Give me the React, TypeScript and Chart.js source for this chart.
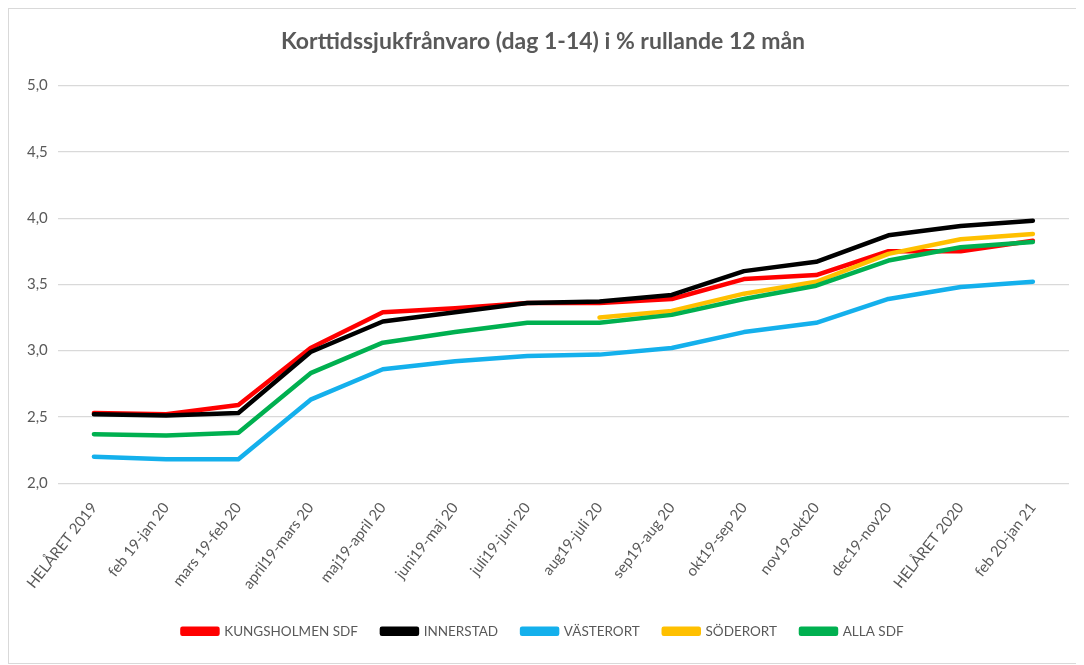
import { useEffect, useRef } from "react";
import { Chart, registerables } from "chart.js";

Chart.register(...registerables);

const categories = [
  "HELÅRET 2019",
  "feb 19-jan 20",
  "mars 19-feb 20",
  "april19-mars 20",
  "maj19-april 20",
  "juni19-maj 20",
  "juli19-juni 20",
  "aug19-juli 20",
  "sep19-aug 20",
  "okt19-sep 20",
  "nov19-okt20",
  "dec19-nov20",
  "HELÅRET 2020",
  "feb 20-jan 21",
];

const kungsholmen = [2.53, 2.52, 2.59, 3.02, 3.29, 3.32, 3.36, 3.36, 3.39, 3.54, 3.57, 3.75, 3.75, 3.83];
const innerstad = [2.52, 2.51, 2.53, 2.99, 3.22, 3.29, 3.36, 3.37, 3.42, 3.6, 3.67, 3.87, 3.94, 3.98];
const vasterort = [2.2, 2.18, 2.18, 2.63, 2.86, 2.92, 2.96, 2.97, 3.02, 3.14, 3.21, 3.39, 3.48, 3.52];
const soderort = [null, null, null, null, null, null, null, 3.25, 3.3, 3.43, 3.52, 3.73, 3.84, 3.88];
const allaSdf = [2.37, 2.36, 2.38, 2.83, 3.06, 3.14, 3.21, 3.21, 3.27, 3.39, 3.49, 3.68, 3.78, 3.82];

const seriesNames = ["KUNGSHOLMEN SDF", "INNERSTAD", "VÄSTERORT", "SÖDERORT", "ALLA SDF"];
const seriesColors = ["#ff0000", "#000000", "#14b0ec", "#ffc000", "#00b050"];
const seriesData = [kungsholmen, innerstad, vasterort, soderort, allaSdf];

const yTicks = [2.0, 2.5, 3.0, 3.5, 4.0, 4.5, 5.0];

const FONT = "Lato, 'Open Sans', sans-serif";
const TEXT = "#595959";

export default function App() {
  const ref = useRef<HTMLCanvasElement>(null);

  useEffect(() => {
    const chart = new Chart(ref.current!, {
      type: "line",
      data: {
        labels: categories,
        datasets: seriesData.map((d, i) => ({
          label: seriesNames[i],
          data: d,
          borderColor: seriesColors[i],
          backgroundColor: seriesColors[i],
          borderWidth: 4.5,
          pointRadius: 0,
          tension: 0,
          borderCapStyle: "round" as const,
          borderJoinStyle: "round" as const,
          order: seriesData.length - i,
          spanGaps: false,
        })),
      },
      options: {
        animation: false,
        responsive: true,
        maintainAspectRatio: false,
        layout: { padding: { left: 8, right: 8, top: 0, bottom: 15 } },
        plugins: {
          title: {
            display: true,
            text: "Korttidssjukfrånvaro (dag 1-14) i % rullande 12 mån",
            color: TEXT,
            font: { family: FONT, size: 23, weight: "bold" },
            padding: { top: 19, bottom: 30 },
          },
          legend: {
            display: true,
            position: "bottom",
            labels: {
              color: TEXT,
              font: { family: FONT, size: 13.5 },
              boxWidth: 35,
              boxHeight: 5,
              padding: 24,
              sort: (a: any, b: any) => a.datasetIndex - b.datasetIndex,
            },
          },
          tooltip: { enabled: false },
        },
        scales: {
          x: {
            offset: true,
            grid: { display: false },
            border: { display: false },
            ticks: {
              color: TEXT,
              font: { family: FONT, size: 15 },
              maxRotation: 52,
              minRotation: 52,
              autoSkip: false,
              padding: 8,
            },
          },
          y: {
            min: 2,
            max: 5,
            afterBuildTicks: (axis: any) => {
              axis.ticks = yTicks.map((v) => ({ value: v }));
            },
            grid: { color: "#d9d9d9", lineWidth: 1.2, drawTicks: false },
            border: { display: false },
            ticks: {
              color: TEXT,
              font: { family: FONT, size: 15 },
              padding: 10,
              callback: (v: any) => Number(v).toFixed(1).replace(".", ","),
            },
          },
        },
      },
    });
    return () => chart.destroy();
  }, []);

  return (
    <div
      style={{
        width: 1068,
        height: 654,
        border: "1px solid #d9d9d9",
        position: "relative",
        background: "#fff",
      }}
    >
      <canvas ref={ref} />
    </div>
  );
}
